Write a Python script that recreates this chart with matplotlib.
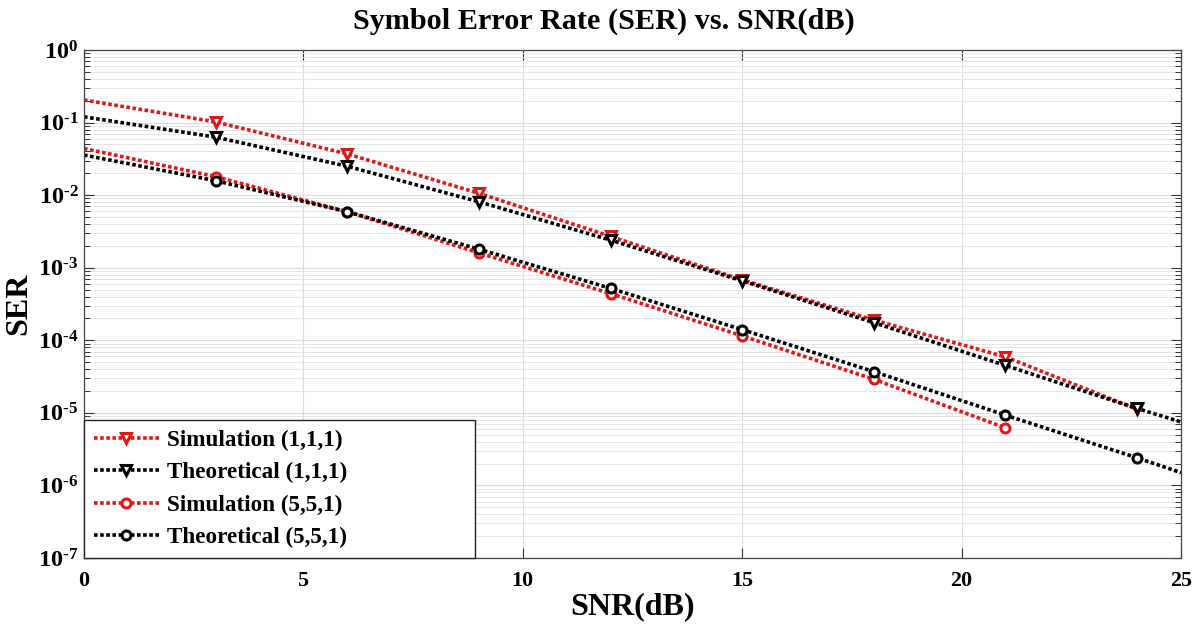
import matplotlib
matplotlib.use("Agg")
import math
import matplotlib.pyplot as plt
from matplotlib.ticker import LogLocator, NullFormatter, FixedLocator, FuncFormatter

plt.rcParams['font.family'] = ['Liberation Serif', 'DejaVu Serif']
plt.rcParams['font.weight'] = 'bold'
plt.rcParams['mathtext.fontset'] = 'custom'
plt.rcParams['mathtext.rm'] = 'Liberation Serif:bold'
plt.rcParams['mathtext.it'] = 'Liberation Serif:bold'
plt.rcParams['mathtext.bf'] = 'Liberation Serif:bold'
plt.rcParams['mathtext.default'] = 'bf'

# Data
snr_sim111 = [0, 3, 6, 9, 12, 15, 18, 21, 24]
ser_sim111 = [0.205, 0.102, 0.037, 0.0106, 0.0027, 6.8e-4, 1.9e-4, 5.9e-5, 1.12e-5]

snr_th111 = [0, 3, 6, 9, 12, 15, 18, 21, 24, 25]
ser_th111 = [0.12, 0.063, 0.025, 0.0081, 0.0024, 6.6e-4, 1.75e-4, 4.5e-5, 1.15e-5, 7.5e-6]

snr_sim551 = [0, 3, 6, 9, 12, 15, 18, 21]
ser_sim551 = [0.044, 0.018, 0.0059, 0.0016, 4.4e-4, 1.15e-4, 2.9e-5, 6.2e-6]

snr_th551 = [0, 3, 6, 9, 12, 15, 18, 21, 24, 25]
ser_th551 = [0.0357, 0.0158, 0.0059, 0.0018, 5.2e-4, 1.4e-4, 3.7e-5, 9.3e-6, 2.4e-6, 1.5e-6]

labels = ['Simulation (1,1,1)', 'Theoretical (1,1,1)', 'Simulation (5,5,1)', 'Theoretical (5,5,1)']
xticks = [0, 5, 10, 15, 20, 25]

red = '#e01818'
blk = '#000000'

fig = plt.figure(figsize=(12, 6.26), dpi=100)
ax = fig.add_axes([84/1200, 1 - 558/626, (1181-84)/1200, (558-50)/626])

def mk(n, last_extra=False):
    if last_extra:
        return list(range(1, n - 1))
    return list(range(1, n))

common = dict(linestyle=(0, (1.0, 0.7)), lw=2.6, mfc='white', mew=2.2)
ax.plot(snr_sim111, ser_sim111, color=red, marker='v', ms=7.5, mec=red,
        markevery=mk(len(snr_sim111)), label=labels[0], **common)
ax.plot(snr_th111, ser_th111, color=blk, marker='v', ms=7.5, mec=blk,
        markevery=mk(len(snr_th111), True), label=labels[1], **common)
ax.plot(snr_sim551, ser_sim551, color=red, marker='o', ms=6.5, mec=red,
        markevery=mk(len(snr_sim551)), label=labels[2], **common)
ax.plot(snr_th551, ser_th551, color=blk, marker='o', ms=6.5, mec=blk,
        markevery=mk(len(snr_th551), True), label=labels[3], **common)

ax.set_yscale('log')
ax.set_xlim(0, 25)
ax.set_ylim(1e-7, 1)
ax.xaxis.set_major_locator(FixedLocator(xticks))
ax.yaxis.set_major_locator(LogLocator(base=10, numticks=20))
ax.yaxis.set_minor_locator(LogLocator(base=10, subs=range(2, 10), numticks=20))
ax.yaxis.set_minor_formatter(NullFormatter())

def yfmt(v, p):
    e = int(round(math.log10(v)))
    if e < 0:
        return r'$\mathbf{10^{\text{-}%d}}$' % (-e)
    return r'$\mathbf{10^{%d}}$' % e

ax.yaxis.set_major_formatter(FuncFormatter(yfmt))
ax.xaxis.offsetText.set_visible(False)
ax.yaxis.offsetText.set_visible(False)

ax.grid(True, which='major', axis='both', color='#dcdcdc', lw=0.8)
ax.grid(True, which='minor', axis='y', color='#e6e6e6', lw=0.7, linestyle='-')
ax.set_axisbelow(True)

ax.tick_params(which='both', direction='in', top=True, right=True, colors='#333333',
               labelcolor='black')
ax.tick_params(axis='x', which='major', pad=9, labelsize=15.8)
ax.tick_params(axis='y', which='major', pad=4, labelsize=17.5)
ax.tick_params(which='major', length=7, width=0.8)
ax.tick_params(which='minor', length=4, width=0.7)
for lab in ax.get_xticklabels() + ax.get_yticklabels():
    lab.set_fontweight('bold')
for s in ax.spines.values():
    s.set_color('#444444')
    s.set_linewidth(0.9)

ax.set_title('Symbol Error Rate (SER) vs. SNR(dB)', fontsize=21.8, fontweight='bold',
             x=(604-84)/1097, y=1.0, pad=15)
ax.set_xlabel('SNR(dB)', fontsize=23, fontweight='bold', labelpad=1)
ax.set_ylabel('SER', fontsize=23, fontweight='bold')
ax.yaxis.set_label_coords((33-84)/1097, 0.5)

leg = ax.legend(loc='lower left', bbox_to_anchor=(0, 0, (475-84)/1097, 0.3),
                mode='expand', frameon=True, fancybox=False,
                borderaxespad=0, handlelength=2.8, handletextpad=0.35,
                labelspacing=0.48, borderpad=0.42, prop={'weight': 'bold', 'size': 16.7})
leg.get_frame().set_edgecolor('#222222')
leg.get_frame().set_linewidth(1.0)
leg.get_frame().set_alpha(1.0)

fig.savefig('out.png', dpi=100)
